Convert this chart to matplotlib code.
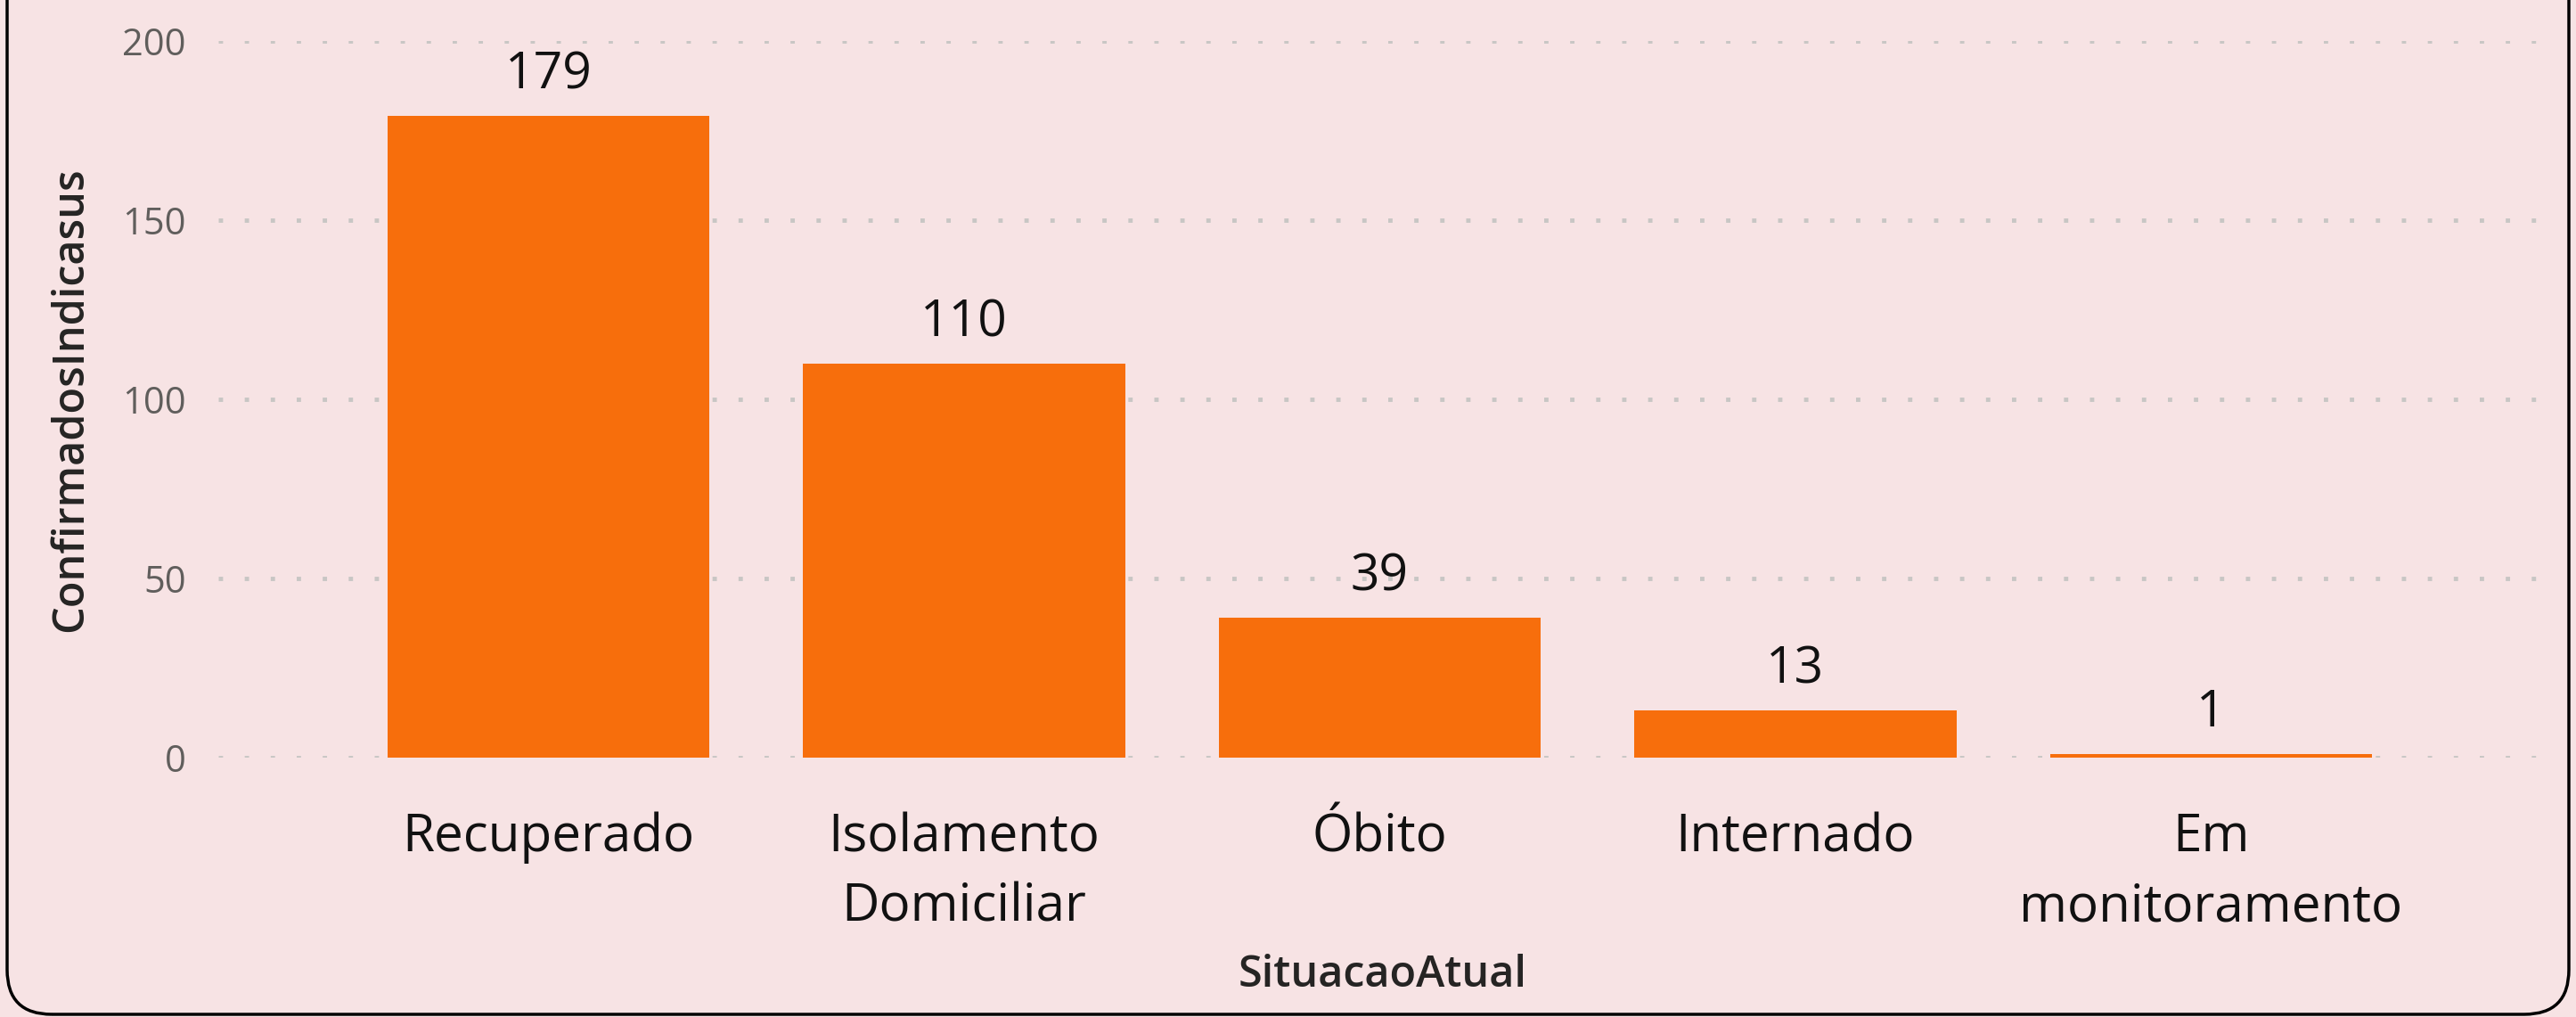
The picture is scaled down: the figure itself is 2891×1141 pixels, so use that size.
import matplotlib
matplotlib.use("Agg")
import matplotlib.pyplot as plt
from matplotlib.patches import FancyBboxPatch

categories = ["Recuperado", "Isolamento\nDomiciliar", "Óbito", "Internado", "Em\nmonitoramento"]
values = [179, 110, 39, 13, 1]
yticks = [0, 50, 100, 150, 200]

BG = "#F7E3E4"
BAR = "#F76E0C"

plt.rcParams['font.family'] = ['Open Sans', 'DejaVu Sans']

fig = plt.figure(figsize=(28.91, 11.41), dpi=100, facecolor=BG)
ax = fig.add_axes([0.0847, 0.2553, 0.9043, 0.7043])
ax.set_facecolor(BG)

x = list(range(len(categories)))
ax.bar(x, values, width=0.775, color=BAR, zorder=3)
for xi, v in zip(x, values):
    ax.annotate(str(v), (xi, v), xytext=(0, 12), textcoords="offset points",
                ha="center", va="bottom", fontsize=41, color="#111111")

ax.set_xlim(-0.795, 4.81)
ax.set_ylim(0, 200)
ax.set_yticks(yticks)
ax.set_yticklabels([str(t) for t in yticks], fontsize=30, color="#605E5C")
ax.set_xticks(x)
ax.set_xticklabels(categories, fontsize=42, color="#111111", linespacing=1.45)
ax.tick_params(axis="y", length=0, pad=26)
ax.tick_params(axis="x", length=0, pad=44)
for t in ax.get_xticklabels():
    t.set_verticalalignment("top")
    t.set_multialignment("center")

ax.grid(axis="y", color="#C8C6C4", linestyle=(0, (1, 5)), linewidth=3.5, zorder=0)
for s in ax.spines.values():
    s.set_visible(False)

ax.set_ylabel("ConfirmadosIndicasus", fontsize=35, color="#252423", weight="semibold", labelpad=24)
ax.set_xlabel("SituacaoAtual", fontsize=35, color="#252423", weight="semibold", labelpad=16)

frame = FancyBboxPatch((0.08, 0.03), 28.91 - 0.16, 14.0,
                       boxstyle="round,pad=0,rounding_size=0.5",
                       transform=fig.dpi_scale_trans, facecolor="none",
                       edgecolor="black", linewidth=2.5, zorder=10)
fig.patches.append(frame)

fig.savefig("out.png", dpi=100, facecolor=BG)
